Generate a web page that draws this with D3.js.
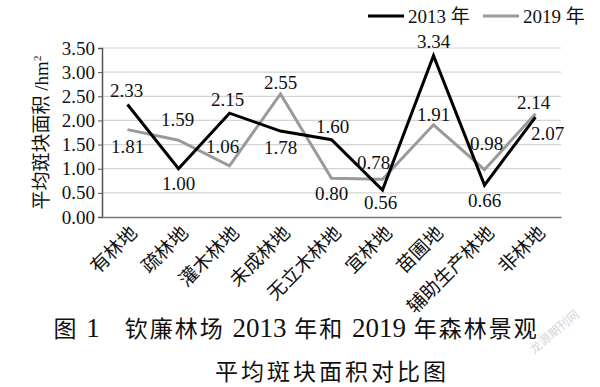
<!DOCTYPE html>
<html>
<head>
<meta charset="utf-8">
<script src="https://cdn.jsdelivr.net/npm/d3@7"></script>
<style>
  body { margin: 0; background: #fff; }
  svg { display: block; }
  text { font-family: 'Liberation Serif', 'Noto Sans CJK SC', serif; }
</style>
</head>
<body>
<svg id="chart" width="600" height="387"></svg>
<script>
// data
const categories = ['有林地', '疏林地', '灌木林地', '未成林地', '无立木林地', '宜林地', '苗圃地', '辅助生产林地', '非林地'];
const values2013 = [2.33, 1.00, 2.15, 1.78, 1.60, 0.56, 3.34, 0.66, 2.07];
const values2019 = [1.81, 1.59, 1.06, 2.55, 0.80, 0.78, 1.91, 0.98, 2.14];
const yTicks = [0, 0.5, 1, 1.5, 2, 2.5, 3, 3.5];
const seriesNames = ['2013 年', '2019 年'];
const captionParts = ['图 ', '1', '　钦廉林场 ', '2013', ' 年和 ', '2019', ' 年森林景观'];

// label offsets from the point (dx, dy of label centre), by hand
const labelOff2013 = [[-1, -14], [0, 15], [-2, -14], [0, 16], [1, -13], [-2, 12], [0, -14], [0, 15], [12, 16]];
const labelOff2019 = [[0, 17], [-1, -21], [-7, -19], [0, -12], [0, 15], [-9, -17], [0, -10], [2, -26], [-2, -11]];

const margin = { top: 48, right: 39, bottom: 170, left: 102 };
const width = 600 - margin.left - margin.right;
const height = 387 - margin.top - margin.bottom;

const svg = d3.select('#chart');
const g = svg.append('g')
    .attr('transform', `translate(${margin.left},${margin.top})`);

const x = d3.scaleBand()
    .domain(categories)
    .range([0, width]);

const y = d3.scaleLinear()
    .domain([0, 3.5])
    .range([height, 0]);

// gridlines
g.append('g')
    .attr('class', 'grid')
    .selectAll('line')
    .data(yTicks.filter(d => d > 0))
    .enter()
    .append('line')
        .attr('x1', 0)
        .attr('x2', width)
        .attr('y1', d => y(d))
        .attr('y2', d => y(d))
        .attr('stroke', '#d4d4d4')
        .attr('stroke-width', 1.2);

// y axis
const yAxis = g.append('g')
    .call(d3.axisLeft(y).tickValues(yTicks).tickFormat(d3.format('.2f')).tickSize(4).tickPadding(3));
yAxis.select('.domain').attr('stroke', '#555').attr('stroke-width', 1.5);
yAxis.selectAll('.tick line').attr('stroke', '#555');
yAxis.selectAll('text')
    .attr('fill', '#111')
    .style('font-size', '19px');

// x axis
const xAxis = g.append('g')
    .attr('transform', `translate(0,${height})`)
    .call(d3.axisBottom(x).tickSize(0).tickPadding(0));
xAxis.select('.domain').attr('stroke', '#777').attr('stroke-width', 1.5);
xAxis.selectAll('text')
    .attr('fill', '#111')
    .style('font-size', '19px')
    .attr('text-anchor', 'end')
    .attr('dy', 0)
    .attr('y', 0)
    .attr('transform', 'translate(11,17) rotate(-45)');

// y axis title
svg.append('text')
    .attr('transform', `translate(48,${margin.top + height / 2}) rotate(-90)`)
    .attr('text-anchor', 'middle')
    .attr('fill', '#111')
    .style('font-size', '19px')
    .text('平均斑块面积 /hm')
    .append('tspan')
        .attr('dy', '-0.6em')
        .style('font-size', '11px')
        .text('2');

const line = d3.line()
    .x((d, i) => x(categories[i]) + x.bandwidth() / 2)
    .y(d => y(d));

const series = [
    { name: seriesNames[0], values: values2013, color: '#000', offs: labelOff2013 },
    { name: seriesNames[1], values: values2019, color: '#9a9a9a', offs: labelOff2019 }
];

// draw 2019 first so 2013 sits on top
series.slice().reverse().forEach(s => {
    g.append('path')
        .datum(s.values)
        .attr('fill', 'none')
        .attr('stroke', s.color)
        .attr('stroke-width', 3)
        .attr('stroke-linejoin', 'miter')
        .attr('d', line);
});

series.forEach(s => {
    g.append('g')
        .selectAll('text')
        .data(s.values)
        .enter()
        .append('text')
            .attr('x', (d, i) => x(categories[i]) + x.bandwidth() / 2 + s.offs[i][0])
            .attr('y', (d, i) => y(d) + s.offs[i][1])
            .attr('dy', '0.35em')
            .attr('text-anchor', 'middle')
            .attr('fill', '#111')
            .style('font-size', '19px')
            .text(d => d.toFixed(2));
});

// legend
const legend = svg.append('g').attr('class', 'legend');
const legendX = [368, 483];
series.forEach((s, i) => {
    legend.append('line')
        .attr('x1', legendX[i])
        .attr('x2', legendX[i] + 36)
        .attr('y1', 16)
        .attr('y2', 16)
        .attr('stroke', s.color)
        .attr('stroke-width', 3);
    legend.append('text')
        .attr('x', legendX[i] + 40)
        .attr('y', 16)
        .attr('dy', '0.35em')
        .attr('fill', '#111')
        .style('font-size', '19px')
        .text(s.name);
});

// caption, digits a bit bigger and tighter than the CJK text
const cap = svg.append('text')
    .attr('x', 296)
    .attr('y', 337)
    .attr('text-anchor', 'middle')
    .attr('fill', '#111')
    .style('font-size', '23px')
    .style('letter-spacing', '2px');
cap.selectAll('tspan')
    .data(captionParts)
    .enter()
    .append('tspan')
        .style('font-size', d => /^\d+$/.test(d) ? '27px' : null)
        .style('letter-spacing', d => /^\d+$/.test(d) ? '0px' : null)
        .text(d => d);

svg.append('text')
    .attr('x', 332)
    .attr('y', 380)
    .attr('text-anchor', 'middle')
    .attr('fill', '#111')
    .style('font-size', '23px')
    .style('letter-spacing', '3px')
    .text('平均斑块面积对比图');

// faint watermark
svg.append('text')
    .attr('transform', 'translate(557,335) rotate(-40)')
    .attr('text-anchor', 'middle')
    .attr('fill', '#d6d6d6')
    .style('font-size', '12px')
    .text('龙源期刊网');
</script>
</body>
</html>
